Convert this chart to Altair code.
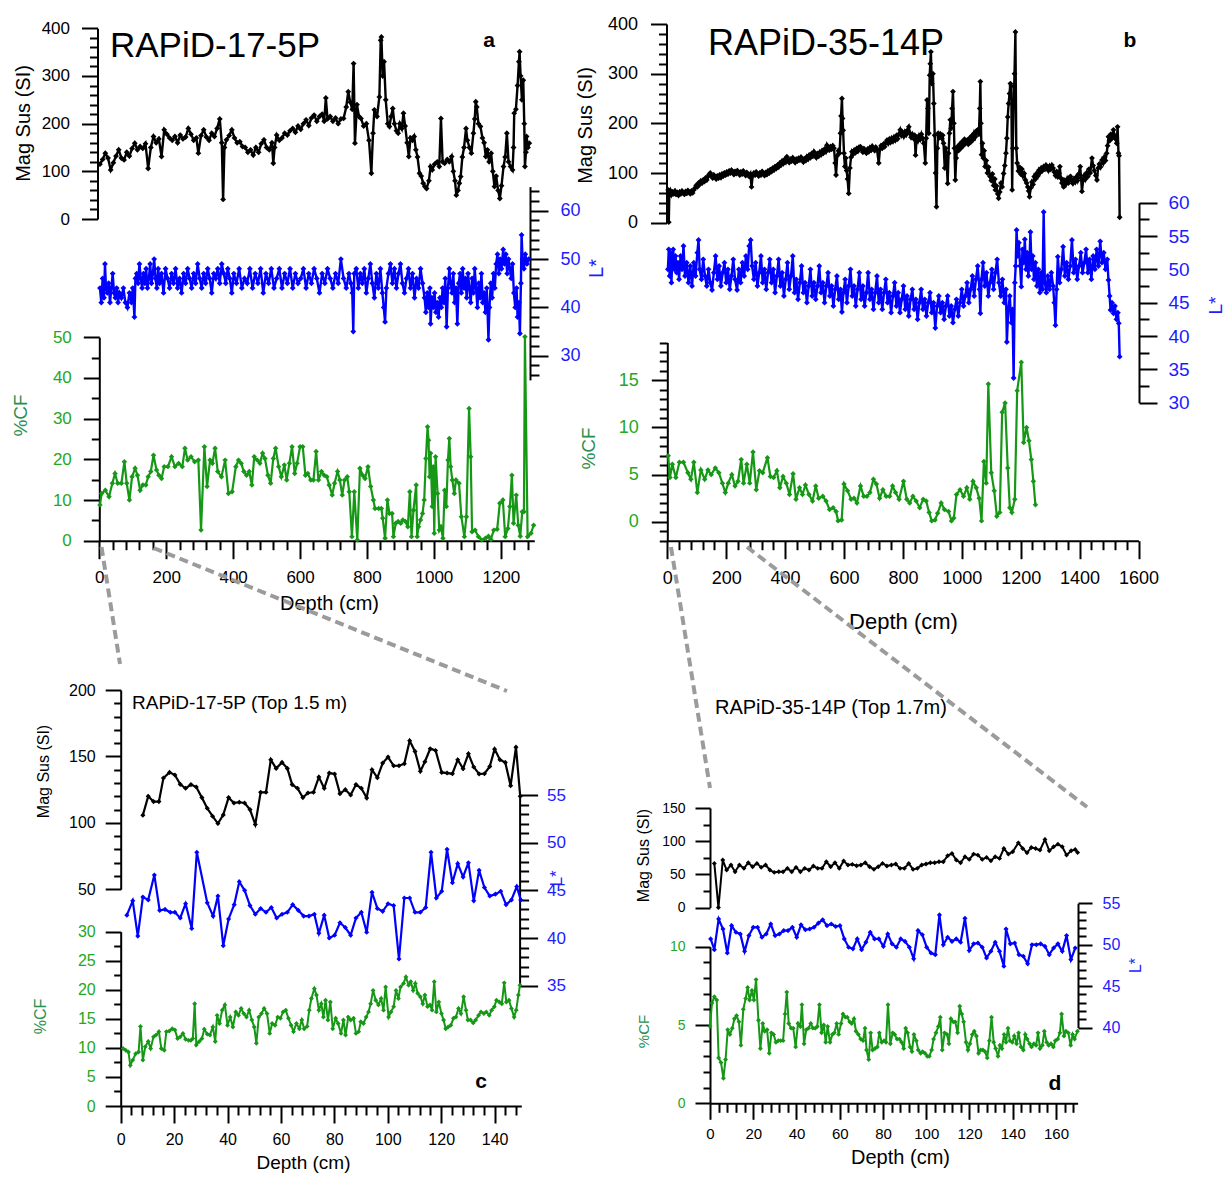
import altair as alt
import pandas as pd

W, H = 1230, 1200
FONT = "Liberation Sans"
BLACK = "#000000"
BLUE = "#0000ff"
BLUE_TXT = "#1c1cff"
GREEN = "#169816"
GREEN_TXT = "#24a824"
GREEN_TITLE = "#2a9050"
GREY = "#9b9b9b"

# ---------------- RAPiD-17-5P, full core (depth cm, value) ----------------
a_magsus = [
    (2, 115), (10, 125), (18, 138), (26, 128), (34, 103), (42, 118), (50, 132), (58, 145), (66, 128), (74, 124),
    (82, 140), (90, 132), (98, 148), (106, 159), (114, 145), (122, 152), (130, 148), (138, 158), (146, 106), (154, 150),
    (162, 173), (170, 160), (178, 168), (186, 131), (194, 187), (202, 178), (210, 170), (218, 165), (226, 173), (234, 160),
    (242, 176), (250, 168), (258, 172), (266, 190), (274, 178), (282, 165), (290, 170), (296, 138), (304, 175), (312, 187),
    (320, 172), (328, 165), (336, 180), (344, 173), (352, 190), (360, 210), (366, 160), (370, 41), (374, 150), (380, 166),
    (388, 175), (396, 187), (404, 170), (412, 160), (420, 162), (428, 152), (436, 150), (444, 140), (452, 145), (460, 134),
    (468, 150), (476, 140), (484, 158), (492, 166), (500, 150), (508, 145), (516, 160), (520, 117), (524, 150), (530, 176),
    (538, 165), (546, 170), (554, 180), (562, 176), (570, 185), (578, 190), (586, 182), (594, 195), (602, 188), (610, 200),
    (618, 208), (626, 196), (634, 212), (642, 218), (650, 205), (658, 215), (666, 220), (672, 205), (677, 254), (682, 210),
    (690, 215), (698, 205), (706, 212), (714, 200), (722, 210), (730, 211), (738, 235), (744, 267), (750, 245), (756, 230),
    (760, 326), (764, 159), (770, 240), (776, 215), (782, 211), (790, 195), (798, 200), (806, 165), (813, 96), (818, 180),
    (822, 229), (830, 215), (837, 256), (841, 375), (843, 382), (847, 300), (851, 330), (856, 250), (862, 200), (867, 194),
    (872, 215), (877, 232), (882, 200), (888, 185), (893, 180), (898, 200), (904, 190), (909, 222), (914, 195), (920, 160),
    (925, 131), (930, 170), (936, 165), (941, 173), (946, 145), (951, 130), (957, 96), (962, 90), (968, 75), (973, 68),
    (978, 64), (985, 80), (990, 110), (995, 103), (1002, 115), (1010, 120), (1016, 110), (1021, 211), (1026, 120), (1032, 117),
    (1040, 125), (1046, 120), (1053, 131), (1058, 100), (1063, 80), (1067, 50), (1072, 60), (1076, 75), (1080, 89), (1085, 130),
    (1090, 150), (1096, 190), (1100, 165), (1106, 150), (1112, 138), (1118, 180), (1122, 210), (1125, 246), (1128, 235), (1133, 200),
    (1139, 194), (1145, 170), (1150, 160), (1155, 131), (1160, 145), (1165, 120), (1171, 138), (1176, 100), (1181, 68), (1186, 90),
    (1192, 60), (1197, 43), (1202, 70), (1208, 110), (1213, 130), (1218, 180), (1223, 120), (1229, 110), (1235, 103), (1238, 150),
    (1240, 222), (1245, 230), (1250, 280), (1254, 330), (1256, 351), (1259, 300), (1263, 250), (1267, 291), (1270, 200), (1272, 110),
    (1275, 140), (1277, 173), (1281, 150), (1285, 159),
]

a_lstar = [
    (2, 44), (6, 41), (10, 46), (14, 42), (17, 49), (20, 44), (24, 43), (28, 45), (32, 41), (36, 44),
    (40, 47), (44, 43), (48, 42), (52, 44), (56, 41), (60, 43), (66, 42), (72, 44), (78, 41), (84, 40),
    (90, 43), (96, 41), (100, 44), (105, 38), (108, 46), (112, 47), (116, 45), (120, 49), (124, 46), (128, 44),
    (132, 47), (136, 45), (140, 48), (144, 44), (148, 46), (152, 49), (156, 45), (160, 47), (164, 50), (168, 46),
    (172, 44), (176, 48), (180, 45), (186, 47), (192, 43), (198, 48), (204, 46), (210, 44), (216, 47), (222, 45),
    (228, 48), (234, 44), (240, 46), (246, 43), (252, 47), (258, 45), (264, 48), (270, 46), (276, 44), (282, 47),
    (288, 45), (294, 49), (300, 46), (306, 44), (312, 47), (318, 45), (324, 48), (330, 46), (336, 43), (342, 47),
    (348, 46), (354, 48), (360, 45), (366, 49), (372, 47), (378, 45), (384, 48), (390, 46), (396, 43), (402, 47),
    (410, 45), (418, 48), (426, 44), (434, 46), (442, 45), (450, 48), (458, 44), (466, 47), (474, 45), (482, 48),
    (490, 43), (498, 47), (506, 45), (514, 48), (522, 44), (530, 46), (538, 48), (546, 44), (554, 47), (562, 45),
    (570, 48), (578, 44), (586, 47), (594, 45), (602, 46), (610, 48), (618, 44), (626, 47), (634, 45), (642, 48),
    (650, 46), (658, 43), (666, 47), (674, 45), (682, 48), (690, 46), (698, 44), (706, 47), (714, 45), (722, 50),
    (730, 46), (738, 44), (746, 47), (752, 45), (756, 43), (759, 35), (762, 47), (768, 48), (774, 44), (780, 47),
    (786, 45), (792, 48), (798, 43), (804, 46), (810, 49), (816, 45), (822, 42), (828, 47), (834, 44), (840, 48),
    (846, 43), (850, 40), (854, 37), (858, 44), (864, 47), (870, 49), (876, 45), (882, 48), (888, 44), (894, 47),
    (900, 49), (906, 45), (912, 43), (918, 46), (924, 48), (930, 44), (936, 47), (942, 42), (948, 46), (954, 44),
    (960, 48), (966, 45), (972, 42), (976, 39), (980, 43), (984, 40), (988, 44), (990, 36.6), (994, 42), (998, 40),
    (1002, 43), (1006, 39), (1010, 41), (1014, 38), (1018, 42), (1022, 40), (1026, 44), (1030, 41), (1034, 46), (1038, 36),
    (1042, 44), (1046, 48), (1050, 45), (1054, 43), (1058, 47), (1062, 41), (1066, 44), (1070, 36.6), (1074, 45), (1078, 47),
    (1082, 43), (1086, 48), (1090, 44), (1094, 46), (1098, 42), (1102, 47), (1106, 44), (1110, 41), (1114, 46), (1118, 43),
    (1122, 48), (1126, 44), (1130, 40), (1134, 45), (1138, 42), (1142, 47), (1146, 41), (1150, 43), (1154, 39), (1158, 44),
    (1163, 33.3), (1166, 40), (1170, 45), (1174, 42), (1178, 47), (1182, 44), (1186, 49), (1190, 51), (1194, 47), (1198, 50),
    (1202, 48), (1207, 52), (1211, 49), (1215, 51), (1219, 47), (1223, 50), (1227, 48), (1231, 46), (1235, 49), (1239, 43),
    (1243, 40), (1247, 44), (1250, 38), (1254, 41), (1257, 34.6), (1260, 45), (1262, 55), (1265, 50), (1269, 48), (1273, 51),
    (1278, 49), (1283, 50),
]

a_cf = [
    (2, 8.8), (7, 11.6), (18, 12.4), (29, 10.8), (39, 14.1), (47, 16.5), (55, 14.1), (66, 14.1), (75, 19.4), (82, 14.1),
    (90, 10.0), (98, 15.7), (107, 17.8), (114, 16.1), (122, 12.4), (130, 13.7), (139, 13.7), (146, 15.7), (154, 17.0), (162, 21.0),
    (171, 17.4), (178, 16.1), (186, 15.3), (194, 18.2), (205, 18.2), (216, 20.6), (226, 18.2), (237, 19.0), (248, 18.2), (256, 22.7),
    (264, 19.8), (274, 20.6), (285, 19.4), (296, 19.8), (304, 2.6), (314, 23.1), (322, 13.3), (331, 19.8), (338, 19.0), (346, 22.7),
    (354, 17.0), (365, 15.7), (376, 19.8), (386, 11.6), (397, 12.0), (408, 18.2), (416, 19.8), (424, 19.0), (432, 17.0), (440, 16.1),
    (448, 17.0), (456, 13.7), (463, 20.6), (472, 19.8), (480, 19.0), (488, 21.5), (495, 20.2), (504, 16.1), (512, 14.1), (520, 20.2),
    (527, 22.7), (536, 18.2), (544, 15.7), (553, 18.6), (560, 14.9), (568, 19.0), (576, 23.1), (584, 16.5), (591, 19.0), (600, 23.1),
    (608, 23.1), (616, 16.1), (623, 16.5), (632, 14.9), (640, 14.9), (648, 21.9), (655, 14.9), (664, 17.0), (672, 16.1), (680, 15.7),
    (687, 13.7), (696, 11.2), (703, 14.1), (712, 17.0), (719, 14.9), (726, 11.2), (733, 14.9), (741, 15.7), (747, 12.0), (755, 1.0),
    (762, 12.0), (771, 0.2), (779, 17.8), (787, 16.1), (794, 15.3), (803, 18.2), (811, 13.3), (819, 10.0), (824, 7.9), (835, 7.9),
    (843, 7.9), (847, 5.5), (854, 0.6), (861, 10.0), (867, 6.7), (875, 6.7), (879, 1.0), (886, 4.3), (893, 4.7), (901, 4.3),
    (907, 5.1), (915, 4.7), (922, 3.4), (928, 12.0), (933, 1.0), (939, 7.5), (947, 13.7), (950, 1.0), (954, 3.4), (960, 5.1),
    (966, 6.7), (971, 10.0), (976, 20.2), (981, 28.0), (984, 24.7), (987, 15.7), (990, 21.5), (995, 8.4), (998, 18.2), (1001, 1.8),
    (1005, 20.6), (1011, 11.6), (1016, 2.6), (1021, 3.4), (1027, 0.6), (1032, 12.4), (1037, 8.4), (1042, 19.8), (1046, 25.1), (1050, 18.2),
    (1055, 14.9), (1061, 11.6), (1066, 14.9), (1075, 14.1), (1082, 5.9), (1091, 1.0), (1097, 5.9), (1105, 32.5), (1110, 20.6), (1114, 2.2),
    (1123, 2.6), (1133, 1.0), (1143, 0.2), (1154, 0.6), (1163, 1.1), (1170, 0.3), (1179, 2.6), (1189, 2.8), (1197, 9.2), (1206, 10.0),
    (1213, 1.0), (1221, 3.0), (1227, 8.4), (1233, 16.1), (1238, 4.3), (1246, 11.2), (1252, 3.8), (1258, 1.1), (1264, 7.1), (1269, 7.1),
    (1272, 50.1), (1280, 1.0), (1290, 1.8), (1298, 3.8),
]

# ---------------- RAPiD-35-14P, full core ----------------
b_magsus = [
    (3, 66), (5, 1), (7, 60), (10, 65), (14, 56), (18, 62), (22, 58), (26, 64), (30, 57), (34, 61),
    (38, 55), (42, 62), (46, 58), (50, 64), (54, 60), (58, 57), (62, 63), (66, 59), (70, 65), (74, 61),
    (78, 58), (82, 64), (86, 60), (90, 66), (94, 70), (98, 75), (102, 72), (106, 80), (110, 77), (114, 84),
    (118, 80), (122, 86), (126, 83), (130, 90), (134, 86), (138, 93), (142, 97), (146, 100), (150, 94), (154, 90),
    (158, 96), (162, 92), (166, 88), (170, 94), (174, 90), (178, 96), (182, 91), (186, 98), (190, 94), (194, 100),
    (198, 96), (202, 102), (206, 98), (210, 104), (214, 100), (218, 106), (222, 101), (226, 97), (230, 103), (234, 99),
    (238, 105), (242, 100), (246, 96), (250, 102), (254, 98), (258, 104), (262, 99), (266, 95), (270, 101), (274, 97),
    (278, 93), (282, 98), (286, 72), (290, 95), (294, 100), (298, 96), (302, 102), (306, 98), (310, 94), (314, 100),
    (318, 96), (322, 103), (326, 99), (330, 95), (334, 101), (338, 97), (342, 104), (346, 100), (350, 107), (354, 103),
    (358, 110), (362, 106), (366, 113), (370, 109), (374, 116), (378, 112), (382, 120), (386, 116), (390, 124), (394, 119),
    (398, 127), (402, 122), (406, 133), (410, 125), (414, 121), (418, 128), (422, 124), (426, 131), (430, 126), (434, 121),
    (438, 128), (442, 124), (446, 130), (450, 126), (454, 132), (458, 127), (462, 122), (466, 129), (470, 125), (474, 133),
    (478, 128), (482, 136), (486, 131), (490, 139), (494, 134), (498, 143), (502, 137), (506, 131), (510, 139), (514, 134),
    (518, 142), (522, 137), (526, 145), (530, 140), (534, 148), (538, 143), (542, 156), (546, 150), (550, 146), (554, 153),
    (558, 148), (562, 155), (566, 150), (570, 120), (573, 96), (577, 135), (581, 145), (585, 140), (588, 180), (590, 215),
    (593, 250), (595, 210), (597, 186), (600, 140), (603, 113), (606, 130), (609, 105), (612, 88), (616, 59), (620, 110),
    (624, 132), (627, 143), (631, 138), (635, 146), (639, 141), (643, 149), (647, 144), (651, 152), (656, 153), (660, 147),
    (664, 142), (668, 149), (672, 144), (676, 140), (680, 148), (684, 143), (688, 151), (692, 146), (696, 154), (700, 149),
    (704, 145), (708, 152), (712, 147), (718, 120), (722, 148), (726, 155), (730, 150), (734, 158), (738, 153), (742, 161),
    (746, 166), (750, 160), (754, 168), (758, 162), (762, 170), (766, 164), (770, 172), (774, 166), (778, 175), (782, 169),
    (786, 178), (791, 187), (795, 176), (799, 182), (803, 174), (807, 183), (811, 177), (815, 186), (820, 193), (824, 180),
    (828, 172), (832, 178), (836, 170), (840, 176), (843, 136), (847, 172), (851, 165), (855, 175), (859, 168), (863, 178),
    (867, 170), (871, 160), (876, 120), (879, 170), (882, 247), (885, 230), (888, 180), (891, 297), (893, 320), (895, 344),
    (898, 280), (902, 300), (905, 240), (908, 176), (911, 100), (914, 32), (917, 150), (920, 180), (924, 172), (928, 178),
    (932, 170), (935, 176), (938, 160), (942, 110), (945, 150), (948, 130), (952, 79), (955, 140), (958, 180), (961, 207),
    (964, 190), (967, 230), (970, 264), (973, 200), (975, 150), (978, 86), (981, 130), (985, 153), (989, 145), (993, 158),
    (997, 150), (1001, 163), (1005, 155), (1009, 168), (1013, 160), (1018, 166), (1022, 158), (1026, 170), (1030, 162), (1034, 175),
    (1038, 167), (1042, 180), (1046, 173), (1050, 185), (1054, 187), (1058, 178), (1061, 230), (1063, 284), (1065, 200), (1067, 137),
    (1070, 160), (1073, 130), (1076, 145), (1079, 113), (1083, 125), (1087, 100), (1091, 112), (1096, 93), (1100, 85), (1104, 98),
    (1108, 75), (1112, 88), (1114, 66), (1118, 74), (1122, 58), (1125, 49), (1129, 62), (1133, 80), (1137, 72), (1142, 99),
    (1146, 115), (1150, 140), (1153, 170), (1156, 213), (1159, 240), (1162, 260), (1165, 280), (1168, 275), (1171, 66), (1173, 150),
    (1176, 237), (1179, 300), (1182, 384), (1185, 150), (1188, 120), (1192, 104), (1196, 112), (1200, 98), (1204, 108), (1208, 94),
    (1212, 99), (1216, 86), (1220, 80), (1224, 72), (1227, 64), (1230, 52), (1234, 70), (1238, 82), (1242, 77), (1246, 93),
    (1250, 88), (1254, 99), (1258, 94), (1262, 106), (1266, 101), (1270, 110), (1274, 105), (1278, 113), (1282, 108), (1286, 116),
    (1290, 111), (1294, 105), (1298, 114), (1302, 108), (1306, 116), (1310, 110), (1314, 102), (1318, 95), (1322, 103), (1326, 92),
    (1330, 100), (1333, 113), (1336, 90), (1340, 80), (1344, 86), (1346, 72), (1350, 84), (1354, 78), (1358, 88), (1362, 80),
    (1366, 91), (1369, 93), (1373, 85), (1377, 79), (1381, 88), (1385, 82), (1389, 92), (1393, 85), (1397, 98), (1402, 113),
    (1405, 90), (1408, 63), (1412, 85), (1416, 95), (1420, 88), (1424, 100), (1428, 93), (1432, 108), (1436, 100), (1442, 130),
    (1446, 115), (1450, 105), (1455, 95), (1459, 86), (1463, 110), (1467, 118), (1471, 112), (1476, 126), (1480, 120), (1484, 132),
    (1488, 125), (1492, 140), (1495, 155), (1498, 173), (1502, 165), (1506, 178), (1510, 170), (1515, 187), (1519, 175), (1523, 168),
    (1526, 160), (1529, 193), (1532, 140), (1534, 135), (1536, 11),
]

b_lstar = [
    (2, 50), (5, 53), (8, 49), (11, 52.5), (14, 48), (17, 51.5), (20, 53), (24, 50), (28, 52), (32, 49.5),
    (36, 51), (40, 48.5), (45, 52), (50, 50), (55, 53.5), (60, 49), (66, 51), (72, 48), (78, 50.5), (84, 47.5),
    (90, 51), (96, 49), (102, 52.5), (106, 54.4), (110, 50), (116, 48.5), (122, 51.5), (128, 49), (134, 47.5), (140, 50),
    (146, 48), (152, 46.9), (158, 49.5), (164, 52), (170, 48.5), (176, 50.5), (182, 47.5), (188, 49.5), (194, 51), (200, 48),
    (206, 50), (212, 47), (218, 49), (224, 51.5), (230, 48.5), (237, 46.9), (243, 50), (249, 48), (255, 51), (261, 49),
    (267, 52), (273, 50), (278, 53.5), (283, 54.4), (288, 50.5), (294, 48.5), (300, 51), (306, 47.5), (312, 49.5), (318, 52),
    (324, 48), (330, 50), (336, 47), (342, 49.5), (348, 51.5), (354, 48), (360, 50), (366, 46.5), (372, 49), (378, 51.5),
    (384, 47.5), (390, 49.5), (396, 46), (402, 48.5), (408, 51), (414, 47), (420, 49), (426, 52), (432, 46.5), (438, 48.5),
    (444, 45.5), (450, 48), (456, 50.5), (462, 46.5), (468, 48), (474, 45), (480, 47.5), (486, 50), (492, 46), (498, 48),
    (504, 45.5), (510, 47.5), (516, 50.5), (522, 46.5), (528, 48), (534, 45), (540, 47.5), (546, 49.5), (552, 46), (558, 47.5),
    (564, 44.5), (570, 47), (576, 49), (582, 45.5), (588, 47), (593, 43.6), (598, 46.5), (604, 48.5), (610, 45), (616, 47.5),
    (622, 50), (628, 46), (634, 47.5), (640, 44.5), (646, 47), (652, 49.5), (658, 45.5), (664, 47.5), (670, 44.5), (676, 46.5),
    (682, 49.5), (688, 45.5), (694, 47), (700, 44), (706, 46.5), (712, 49), (718, 45), (724, 47), (730, 44), (736, 46.5),
    (742, 48.5), (748, 45), (754, 46.5), (760, 43.5), (766, 46), (772, 48), (778, 44.5), (784, 46.5), (790, 43.5), (796, 45.5),
    (802, 47.5), (808, 44), (814, 46), (820, 43), (826, 45.5), (832, 47), (838, 44), (844, 45.5), (850, 42.5), (856, 45),
    (862, 47), (868, 44), (874, 45.5), (880, 43), (886, 45), (892, 46.5), (898, 43.5), (904, 45), (910, 41.2), (916, 44.5),
    (922, 46), (928, 43.5), (934, 45), (940, 42.5), (946, 44.5), (952, 46), (958, 43), (964, 44.5), (970, 42), (976, 44),
    (982, 45.5), (988, 43), (994, 45), (1000, 47), (1006, 44.5), (1012, 46), (1018, 48), (1024, 45), (1030, 47), (1036, 49),
    (1042, 46), (1048, 48.5), (1054, 50.5), (1060, 47), (1063, 43.4), (1067, 48.5), (1072, 51), (1078, 47.5), (1084, 49.5), (1090, 46),
    (1096, 48), (1102, 50), (1108, 47), (1114, 49.5), (1120, 51.5), (1126, 48), (1132, 46), (1138, 48.5), (1144, 45), (1150, 47),
    (1153, 39.1), (1158, 44), (1163, 46), (1168, 42), (1172, 44), (1176, 33.7), (1180, 48), (1183, 50.5), (1186, 55.9), (1190, 52),
    (1194, 54), (1198, 50.5), (1202, 47.4), (1206, 53), (1210, 51), (1214, 54.5), (1218, 50), (1222, 52.5), (1226, 49), (1230, 51.5),
    (1233, 55.6), (1237, 50), (1241, 52), (1245, 48.5), (1250, 51), (1255, 47.5), (1260, 50), (1265, 46.5), (1270, 49.5), (1274, 47),
    (1278, 58.6), (1282, 48), (1287, 46.5), (1292, 49), (1298, 47), (1304, 49.5), (1310, 47.5), (1314, 45), (1318, 41.6), (1322, 47),
    (1326, 51.9), (1332, 48), (1338, 50), (1344, 53.4), (1350, 49), (1356, 51), (1362, 48.5), (1368, 50.5), (1374, 54.4), (1380, 49.5),
    (1386, 51.5), (1392, 48.5), (1398, 50.5), (1404, 52.5), (1410, 49.5), (1416, 51), (1422, 53), (1428, 49.5), (1434, 51.5), (1440, 48.5),
    (1446, 52), (1452, 50), (1458, 53), (1464, 50.5), (1470, 54.2), (1476, 51), (1482, 52.5), (1488, 50), (1494, 51.5), (1498, 48.4),
    (1502, 46), (1505, 43.9), (1510, 45), (1515, 43.4), (1520, 44.5), (1525, 42.5), (1530, 43.5), (1533, 41.9), (1536, 36.9),
]

b_cf = [
    (3, 7.0), (9, 4.7), (17, 6.1), (29, 4.7), (41, 6.3), (55, 6.3), (70, 5.2), (80, 4.5), (90, 6.3), (102, 3.1),
    (114, 5.5), (127, 4.5), (138, 5.5), (149, 5.0), (163, 5.7), (175, 5.2), (187, 4.1), (197, 3.1), (207, 4.1), (219, 5.0),
    (230, 3.8), (240, 4.3), (251, 6.6), (259, 4.1), (270, 6.1), (280, 4.1), (291, 7.4), (302, 3.4), (313, 5.4), (324, 5.2),
    (340, 6.8), (350, 4.8), (361, 4.7), (372, 5.4), (382, 3.6), (393, 4.8), (404, 4.1), (415, 2.9), (427, 5.1), (437, 2.4),
    (449, 3.6), (459, 2.9), (469, 3.9), (481, 2.9), (493, 2.2), (504, 3.8), (514, 2.5), (528, 2.7), (539, 2.2), (551, 1.3),
    (563, 1.5), (573, 1.1), (580, 0.1), (592, 0.2), (600, 4.0), (612, 3.3), (624, 2.4), (634, 2.5), (644, 2.0), (656, 3.8),
    (667, 2.7), (678, 2.7), (688, 3.1), (700, 4.5), (710, 4.0), (721, 2.5), (732, 3.4), (743, 2.7), (755, 2.7), (765, 3.8),
    (775, 3.1), (787, 2.4), (802, 4.3), (813, 2.4), (823, 2.0), (834, 2.7), (845, 2.2), (857, 1.5), (869, 2.4), (879, 2.2),
    (889, 1.0), (898, 0.1), (909, 0.2), (918, 0.9), (930, 2.0), (941, 1.3), (955, 1.1), (965, 0.1), (973, 0.4), (982, 2.9),
    (994, 3.4), (1006, 2.7), (1017, 3.6), (1027, 2.4), (1038, 4.3), (1049, 3.6), (1059, 2.5), (1067, 0.1), (1075, 6.4), (1083, 4.1),
    (1090, 14.6), (1100, 5.2), (1110, 3.3), (1119, 0.6), (1129, 1.0), (1137, 11.6), (1147, 12.6), (1156, 5.7), (1163, 1.5), (1170, 1.0),
    (1180, 2.4), (1188, 13.9), (1202, 16.9), (1210, 8.4), (1220, 10.0), (1228, 8.6), (1236, 6.6), (1243, 4.3), (1250, 1.8),
]

# ---------------- RAPiD-17-5P, top 1.5 m ----------------
c_magsus = [
    (8.3, 105.8), (10.3, 120), (12.3, 116), (14.3, 116), (16.0, 133.8), (18.3, 138), (20.3, 136), (22.3, 129), (24.3, 126), (26.3, 128.8),
    (28.3, 127), (30.4, 119), (32.4, 111), (34.4, 105), (36.4, 99.5), (38.4, 106), (40.4, 119), (42.4, 115), (44.4, 115.5), (46.4, 115),
    (48.4, 110), (50.4, 98.8), (52.4, 123), (54.4, 123), (56.2, 147.5), (58.2, 141), (60.4, 145.5), (62.4, 141), (64.2, 128.8), (66.2, 126),
    (68.2, 119), (70.1, 122.5), (72.2, 123), (74.2, 134.5), (76.2, 126), (78.1, 137.5), (80.1, 136.8), (82.1, 122), (84.1, 125), (86.1, 121),
    (88.1, 128.8), (90.1, 126), (92.1, 118.8), (94.1, 140), (96.1, 134), (98.1, 145), (100.1, 149.5), (102.2, 143), (104.2, 143), (106.2, 144.5),
    (108.2, 161.8), (110.2, 153.8), (112.2, 138.8), (113.9, 146), (115.9, 155.8), (117.9, 154.5), (120.2, 138), (122.2, 137.5), (124.2, 137), (126.2, 147.5),
    (128.2, 140.8), (130.2, 152), (132.2, 142), (134.2, 136.8), (136.2, 137), (138.2, 142.5), (140.0, 155.5), (142.0, 147.5), (144.0, 145.5), (146.0, 128),
    (148.0, 157), (149.6, 120),
]

c_lstar = [
    (2.3, 42.4), (4.5, 43.9), (6.4, 40.2), (8.3, 44.3), (10.3, 44.0), (12.6, 46.6), (14.6, 42.9), (16.6, 43.0), (18.6, 42.7), (20.3, 42.7),
    (22.3, 42.1), (24.3, 43.6), (26.6, 41.0), (28.5, 49.0), (32.4, 43.7), (34.6, 42.3), (36.4, 44.4), (38.4, 39.2), (40.4, 42.0), (42.5, 43.5),
    (44.4, 45.9), (46.4, 45.0), (48.4, 43.4), (50.4, 42.5), (52.4, 43.1), (54.4, 42.7), (56.4, 43.2), (58.4, 42.1), (60.4, 42.5), (62.4, 42.7),
    (64.4, 43.5), (66.5, 42.9), (68.5, 42.3), (70.5, 42.3), (72.5, 42.5), (74.2, 40.5), (76.2, 42.4), (78.1, 40.0), (80.1, 40.3), (82.1, 41.6),
    (84.1, 41.1), (86.1, 40.3), (88.1, 42.1), (90.1, 42.7), (92.1, 40.6), (94.1, 44.8), (96.1, 43.1), (98.1, 42.8), (100.1, 43.6), (102.2, 43.4),
    (104.2, 37.8), (106.2, 44.2), (108.2, 44.2), (110.2, 42.7), (112.2, 42.7), (114.2, 43.2), (116.2, 49.0), (118.2, 44.2), (120.2, 44.9), (122.2, 49.3),
    (124.2, 45.8), (126.2, 47.8), (128.2, 46.4), (130.2, 47.9), (132.2, 43.9), (134.2, 47.1), (136.2, 45.3), (138.2, 44.4), (140.3, 44.6), (142.3, 44.9),
    (144.3, 43.5), (146.3, 44.0), (148.3, 45.4), (149.8, 44.0),
]

c_cf = [
    (0.9, 9.9), (1.9, 9.6), (2.9, 9.3), (3.6, 7.0), (4.5, 7.9), (5.6, 9.0), (6.7, 9.3), (7.4, 13.7), (8.3, 7.9), (9.2, 10.2),
    (10.3, 11.1), (11.2, 9.9), (12.3, 11.9), (13.2, 12.2), (14.3, 12.8), (15.2, 9.9), (16.3, 9.6), (17.1, 12.8), (18.2, 12.9), (19.3, 13.3),
    (20.3, 13.1), (21.3, 11.6), (22.3, 11.9), (23.3, 12.5), (24.3, 11.5), (25.4, 11.3), (26.3, 11.3), (27.0, 11.6), (27.7, 17.6), (28.3, 10.5),
    (29.4, 11.1), (30.4, 11.6), (31.3, 13.2), (32.4, 12.4), (33.4, 12.2), (34.5, 13.6), (35.4, 11.1), (36.1, 15.6), (37.0, 14.2), (38.0, 16.5),
    (39.0, 17.4), (40.0, 13.9), (41.0, 15.3), (42.0, 13.6), (43.1, 16.2), (44.1, 15.6), (45.1, 16.8), (46.1, 15.9), (47.1, 15.3), (48.1, 16.5),
    (49.1, 14.8), (50.0, 13.6), (50.8, 10.8), (51.7, 15.3), (52.7, 15.9), (53.7, 16.8), (54.8, 15.9), (55.8, 12.5), (56.7, 14.2), (57.8, 13.9),
    (58.8, 15.3), (59.8, 15.1), (60.8, 16.2), (61.8, 16.5), (62.8, 15.1), (63.8, 13.9), (64.7, 12.8), (65.8, 14.2), (66.9, 13.3), (67.8, 14.8),
    (68.7, 13.3), (69.8, 13.7), (70.6, 16.5), (71.4, 18.5), (72.5, 20.2), (73.3, 19.1), (74.2, 16.5), (75.1, 17.6), (75.9, 15.3), (76.7, 18.2),
    (77.6, 14.8), (78.5, 17.9), (79.4, 13.3), (80.5, 15.1), (81.4, 14.2), (82.5, 12.5), (83.4, 14.8), (84.2, 12.2), (85.2, 15.3), (86.1, 14.8),
    (87.2, 15.1), (88.1, 12.5), (89.1, 12.8), (89.9, 14.5), (90.9, 14.2), (91.9, 15.3), (92.8, 16.2), (93.6, 17.6), (94.5, 19.9), (95.5, 18.2),
    (96.5, 17.4), (97.5, 18.5), (98.4, 16.5), (99.2, 20.5), (100.3, 15.3), (101.2, 16.2), (102.2, 17.1), (103.1, 19.9), (104.0, 18.5), (104.8, 20.5),
    (105.9, 21.1), (106.8, 22.2), (107.8, 20.8), (108.6, 21.4), (109.5, 19.9), (110.3, 21.1), (111.2, 19.4), (112.2, 18.8), (113.1, 17.6), (113.9, 19.1),
    (114.9, 17.1), (115.8, 17.4), (116.6, 16.5), (117.4, 21.4), (118.2, 16.2), (119.1, 17.9), (120.1, 15.9), (120.9, 14.8), (121.7, 13.3), (122.6, 13.6),
    (123.6, 13.9), (124.6, 15.1), (125.5, 15.3), (126.5, 16.8), (127.4, 15.9), (128.4, 18.8), (129.3, 16.5), (130.0, 14.8), (131.0, 14.8), (132.0, 14.3),
    (132.9, 14.8), (134.0, 15.6), (134.9, 16.2), (136.0, 15.9), (136.9, 16.2), (138.0, 15.6), (138.9, 16.5), (139.9, 17.1), (140.7, 18.2), (141.8, 17.9),
    (142.7, 17.6), (143.6, 21.2), (144.4, 17.9), (145.4, 18.2), (146.3, 16.8), (147.3, 15.3), (148.1, 16.5), (148.9, 19.1), (149.5, 20.8),
]

# ---------------- RAPiD-35-14P, top 1.7 m ----------------
d_magsus = [
    (2.0, 66.5), (3.9, 0), (5.9, 71.5), (7.7, 56.5), (9.7, 64), (11.6, 54), (13.6, 64), (15.7, 59), (17.7, 67.5), (19.7, 61.5),
    (21.7, 66.5), (23.7, 60.5), (25.7, 64), (27.7, 56.5), (29.7, 53), (31.8, 54), (33.8, 54), (35.8, 59), (37.8, 54), (39.8, 60.5),
    (41.8, 54), (43.8, 59), (45.8, 56.5), (47.8, 62.5), (49.8, 59), (51.8, 59), (53.8, 69), (55.8, 61.5), (57.8, 67.5), (59.8, 59),
    (61.8, 70), (63.8, 64), (65.8, 65), (67.8, 63), (69.8, 64), (71.8, 67.5), (73.8, 61.5), (75.8, 57.5), (77.8, 61.5), (79.8, 66.5),
    (81.8, 62.5), (83.9, 64), (85.9, 65.5), (87.9, 59), (89.9, 59), (91.9, 66.5), (93.9, 57.5), (95.9, 59), (97.9, 64), (99.9, 65.5),
    (101.9, 67.5), (103.9, 67.5), (105.9, 69), (107.9, 69), (109.9, 78), (111.9, 81.5), (113.9, 71.5), (115.9, 67.5), (117.9, 76.5), (119.9, 72.5),
    (121.9, 80.5), (123.9, 79), (125.9, 72.5), (127.9, 75.5), (129.9, 70.5), (131.9, 76.5), (133.9, 74), (135.9, 89), (138.0, 80.5), (140.0, 84),
    (142.6, 97.5), (144.6, 89), (146.6, 82.5), (148.6, 90.5), (150.6, 89), (152.6, 86.5), (154.9, 102.5), (156.9, 85.5), (158.9, 91.5), (160.9, 95.5),
    (162.9, 91.5), (164.9, 79), (167.0, 85.5), (168.9, 87.5), (170.0, 83),
]

d_lstar = [
    (0.3, 50.7), (2.0, 49.4), (4.0, 53.1), (6.0, 51.9), (8.0, 49.0), (10.0, 52.3), (12.0, 51.5), (14.0, 51.3), (16.0, 49.2), (18.0, 51.1),
    (20.0, 52.1), (22.0, 52.1), (24.0, 50.9), (26.0, 51.3), (28.1, 52.5), (30.1, 51.1), (32.1, 51.3), (34.1, 51.7), (36.1, 51.7), (38.1, 52.1),
    (40.1, 50.9), (42.1, 52.4), (44.1, 51.8), (46.1, 51.9), (48.1, 52.1), (50.1, 52.6), (52.1, 53.0), (54.1, 52.3), (56.1, 52.5), (58.1, 52.2),
    (60.1, 52.3), (62.1, 50.7), (64.1, 49.7), (66.1, 49.5), (68.1, 50.7), (70.1, 49.4), (72.1, 50.3), (74.1, 51.5), (76.1, 50.7), (78.1, 50.7),
    (80.2, 49.8), (82.2, 51.3), (84.2, 50.1), (86.2, 49.7), (88.2, 50.7), (90.2, 50.4), (92.2, 49.7), (94.2, 48.3), (96.2, 51.7), (98.2, 51.2),
    (100.2, 49.7), (102.2, 49.0), (104.2, 48.8), (106.1, 53.6), (107.9, 50.0), (109.9, 50.9), (111.9, 50.4), (113.9, 50.7), (115.9, 50.3), (117.9, 53.2),
    (119.9, 49.3), (121.9, 50.1), (123.9, 50.2), (125.9, 49.7), (127.9, 48.4), (129.9, 49.2), (131.9, 50.3), (133.9, 49.2), (135.9, 47.4), (136.9, 51.9),
    (138.9, 50.1), (140.9, 50.2), (142.9, 48.8), (144.9, 48.6), (146.9, 47.7), (148.9, 50.0), (150.9, 50.0), (152.9, 50.1), (154.9, 49.8), (156.9, 48.8),
    (158.9, 49.6), (160.9, 50.1), (162.9, 49.2), (164.9, 51.1), (166.9, 48.2), (168.9, 49.6),
]

d_cf = [
    (0.0, 4.9), (0.9, 6.4), (2.0, 6.8), (3.1, 6.6), (4.0, 2.9), (5.1, 2.6), (6.2, 1.6), (7.2, 2.8), (8.2, 4.7), (9.2, 4.4),
    (10.3, 4.8), (11.3, 5.4), (12.3, 5.6), (13.4, 5.2), (14.3, 3.7), (15.4, 6.0), (16.5, 6.7), (17.4, 7.4), (18.3, 6.6), (19.4, 7.2),
    (20.3, 6.6), (21.3, 7.9), (22.4, 5.3), (23.3, 3.5), (24.4, 5.1), (25.3, 4.6), (26.4, 4.7), (27.4, 3.2), (28.4, 4.5), (29.4, 4.4),
    (30.5, 3.9), (31.6, 4.0), (32.7, 4.0), (33.8, 4.0), (34.7, 5.7), (35.5, 7.1), (36.4, 5.1), (37.5, 4.8), (38.5, 4.8), (39.6, 3.6),
    (40.7, 5.1), (41.8, 4.9), (42.5, 6.3), (43.5, 3.8), (44.5, 4.7), (45.6, 4.8), (46.6, 5.1), (47.6, 4.8), (48.7, 4.8), (49.6, 4.9),
    (50.6, 6.3), (51.6, 4.5), (52.6, 5.0), (53.5, 3.9), (54.4, 4.9), (55.5, 3.9), (56.6, 4.4), (57.5, 4.5), (58.6, 5.1), (59.5, 4.4),
    (60.6, 5.1), (61.5, 5.7), (62.6, 5.5), (63.5, 5.5), (64.6, 5.2), (65.5, 5.1), (66.6, 5.4), (67.5, 4.6), (68.6, 4.4), (69.7, 4.1),
    (70.8, 4.0), (71.7, 4.8), (72.4, 3.4), (73.4, 2.8), (74.3, 4.5), (75.2, 3.4), (76.3, 3.5), (77.4, 3.6), (78.3, 4.5), (79.4, 3.9),
    (80.5, 4.0), (81.4, 3.9), (82.3, 6.3), (83.4, 3.8), (84.5, 4.5), (85.4, 4.4), (86.5, 4.1), (87.6, 4.1), (88.6, 3.9), (89.6, 3.5),
    (90.5, 4.8), (91.4, 4.5), (92.5, 3.6), (93.4, 3.3), (94.3, 4.4), (95.4, 4.0), (96.3, 3.4), (97.4, 3.2), (98.3, 3.3), (99.4, 3.2),
    (100.5, 3.0), (101.4, 3.0), (102.5, 3.4), (103.4, 4.1), (104.5, 4.5), (105.6, 4.9), (106.5, 5.5), (107.4, 3.4), (108.5, 4.5), (109.6, 4.4),
    (110.5, 3.8), (111.4, 5.4), (112.5, 5.2), (113.4, 5.2), (114.5, 4.5), (115.5, 6.2), (116.4, 5.7), (117.3, 5.2), (118.4, 3.9), (119.3, 3.4),
    (120.2, 3.8), (121.3, 4.4), (122.2, 4.6), (123.2, 4.3), (124.2, 3.2), (125.2, 3.4), (126.2, 3.4), (127.2, 3.3), (128.2, 2.9), (129.2, 4.0),
    (130.2, 5.5), (131.2, 3.9), (132.1, 3.5), (133.2, 3.0), (134.1, 3.7), (135.0, 3.5), (136.0, 4.4), (136.9, 3.9), (137.8, 4.8), (138.7, 4.0),
    (139.8, 3.9), (140.7, 4.3), (141.8, 3.8), (142.7, 4.5), (143.8, 3.6), (144.9, 3.4), (145.8, 4.4), (146.7, 4.1), (147.8, 3.8), (148.7, 3.6),
    (149.8, 3.8), (150.8, 3.7), (151.7, 4.5), (152.6, 3.5), (153.7, 3.7), (154.6, 4.6), (155.7, 3.9), (156.6, 3.7), (157.7, 3.8), (158.8, 3.6),
    (159.7, 4.0), (160.8, 4.1), (161.8, 4.5), (162.6, 5.7), (163.7, 4.3), (164.6, 4.6), (165.7, 4.5), (166.8, 3.7), (167.7, 4.4), (168.6, 4.1),
    (169.9, 4.6),
]

ONE = pd.DataFrame({"k": [0]})


def sc(dom, rng):
    return alt.Scale(domain=dom, range=rng, nice=False, zero=False)


def steps(lo, hi, step, skip):
    """Tick positions from lo to hi every `step`, leaving out multiples of `skip`."""
    out, v = [], lo
    while v <= hi + 1e-9:
        if abs(v / skip - round(v / skip)) > 1e-9:
            out.append(round(v, 4))
        v += step
    return out


def series(pairs, xdom, xrng, ydom, yrng, color, size, width):
    df = pd.DataFrame(pairs, columns=["depth", "value"])
    return alt.Chart(df).mark_line(
        color=color, strokeWidth=width,
        point=alt.OverlayMarkDef(shape="diamond", size=size, color=color, filled=True, opacity=1),
    ).encode(
        x=alt.X("depth:Q", scale=sc(xdom, xrng), axis=None),
        y=alt.Y("value:Q", scale=sc(ydom, yrng), axis=None),
    )


def axis(channel, dom, rng, orient, at, major, minor, lab_size, lab_color, pad, tick, minor_tick,
         title=None, title_size=16, title_color=BLACK, title_pos=(0, 0)):
    if orient == "left":
        off = -at
    elif orient == "right":
        off = at - W
    else:
        off = at - H
    base = dict(orient=orient, offset=off, grid=False, tickColor=BLACK, tickWidth=2)
    main_kw = dict(base, values=major, format="d", tickSize=tick, domainColor=BLACK, domainWidth=2,
                   labelFont=FONT, labelFontSize=lab_size, labelColor=lab_color, labelPadding=pad,
                   labelOverlap=False, labelFlush=False)
    if title is not None:
        tx, ty = title_pos
        if channel == "x":
            main_kw.update(titleX=tx, titleY=ty - at, titleAngle=0)
        else:
            main_kw.update(titleX=tx - at, titleY=ty, titleAngle=270)
        main_kw.update(title=title, titleFont=FONT, titleFontSize=title_size, titleFontWeight="normal",
                       titleColor=title_color, titleAlign="center", titleBaseline="middle")
    else:
        main_kw["title"] = None
    minor_kw = dict(base, values=minor, tickSize=minor_tick, domain=False, labels=False, title=None)
    df = pd.DataFrame({"v": [dom[0]]})
    out = []
    for kw in (main_kw, minor_kw):
        c = alt.Chart(df).mark_point(opacity=0)
        if channel == "x":
            c = c.encode(x=alt.X("v:Q", scale=sc(dom, rng), axis=alt.Axis(**kw)))
        else:
            c = c.encode(y=alt.Y("v:Q", scale=sc(dom, rng), axis=alt.Axis(**kw)))
        out.append(c)
    return out


def label(text, x, y, size, bold=False, align="left"):
    return alt.Chart(ONE).mark_text(
        text=text, font=FONT, fontSize=size, fontWeight="bold" if bold else "normal",
        align=align, baseline="alphabetic", color=BLACK,
    ).encode(x=alt.value(x), y=alt.value(y))


def connector(x1, y1, x2, y2):
    return alt.Chart(ONE).mark_rule(color=GREY, strokeWidth=4, strokeDash=[9, 5]).encode(
        x=alt.value(x1), y=alt.value(y1), x2=alt.value(x2), y2=alt.value(y2))


layers = [
    connector(101.5, 547, 120, 664),
    connector(153.6, 548, 507, 691),
    connector(671, 547, 710, 788),
    connector(747, 547, 1087, 807),
]

# ---- panel a ----
A_X = ([0, 1300], [99.3, 534.3])
A_MS = ([0, 400], [219, 28.3])
A_L = ([25, 65], [379.9, 186.6])
A_CF = ([0, 50], [540.7, 337.2])
layers += axis("y", *A_MS, "left", 97.5, list(range(0, 401, 100)), steps(0, 400, 20, 100),
               17, BLACK, 12, 16, 8, "Mag Sus (SI)", 20, BLACK, (23, 123))
layers += axis("y", *A_L, "right", 530, [30, 40, 50, 60], steps(26, 64, 2, 10),
               18, BLUE_TXT, 12, 18, 9, "L*", 20, BLUE_TXT, (596, 268))
layers += axis("y", *A_CF, "left", 99.3, list(range(0, 51, 10)), steps(0, 50, 5, 10),
               17, GREEN_TXT, 12, 16, 8, "%CF", 19, GREEN_TITLE, (20, 415))
layers += axis("x", *A_X, "bottom", 540.7, list(range(0, 1201, 200)), steps(0, 1300, 40, 200),
               17, BLACK, 11, 18, 9, "Depth (cm)", 20, BLACK, (329, 603))
layers += [
    series(a_magsus, *A_X, *A_MS, BLACK, 34, 2.4),
    series(a_lstar, *A_X, *A_L, BLUE, 34, 2.4),
    series(a_cf, *A_X, *A_CF, GREEN, 30, 2.2),
    label("RAPiD-17-5P", 110, 57, 35),
    label("a", 489, 47, 21, bold=True, align="center"),
]

# ---- panel b ----
B_X = ([0, 1600], [667.3, 1138.5])
B_MS = ([0, 400], [222.7, 24])
B_L = ([30, 60], [402.7, 202.7])
B_CF = ([-2, 19], [540.7, 342.5])
layers += axis("y", *B_MS, "left", 666.5, list(range(0, 401, 100)), steps(0, 400, 20, 100),
               18, BLACK, 13, 16, 8, "Mag Sus (SI)", 20, BLACK, (585, 125))
layers += axis("y", *B_L, "right", 1139, [30, 35, 40, 45, 50, 55, 60], steps(30, 60, 2.5, 5),
               19, BLUE_TXT, 11, 18, 10, "L*", 19, BLUE_TXT, (1215, 305))
layers += axis("y", *B_CF, "left", 667.3, [0, 5, 10, 15], steps(-2, 19, 1, 5),
               18, GREEN_TXT, 13, 16, 8, "%CF", 19, GREEN_TITLE, (588, 448))
layers += axis("x", *B_X, "bottom", 540.7, list(range(0, 1601, 200)), steps(0, 1600, 40, 200),
               18, BLACK, 11, 18, 9, "Depth (cm)", 22, BLACK, (903, 621))
layers += [
    series(b_magsus, *B_X, *B_MS, BLACK, 34, 2.4),
    series(b_lstar, *B_X, *B_L, BLUE, 34, 2.4),
    series(b_cf, *B_X, *B_CF, GREEN, 30, 2.2),
    label("RAPiD-35-14P", 708, 55, 36),
    label("b", 1130, 47, 21, bold=True, align="center"),
]

# ---- panel c ----
C_X = ([0, 150], [120.7, 521.3])
C_MS = ([50, 200], [889.3, 690])
C_L = ([35, 55], [985.7, 795])
C_CF = ([0, 30], [1106, 931.7])
layers += axis("y", *C_MS, "left", 120.7, [50, 100, 150, 200], steps(50, 200, 10, 50),
               16, BLACK, 10, 15.5, 7, "Mag Sus (SI)", 16, BLACK, (43, 771))
layers += axis("y", *C_L, "right", 519.6, [35, 40, 45, 50, 55], steps(35, 55, 1, 5),
               17, BLUE_TXT, 9, 18, 9, "L*", 17, BLUE_TXT, (556, 878))
layers += axis("y", *C_CF, "left", 120.7, list(range(0, 31, 5)), steps(0, 30, 2.5, 5),
               16, GREEN_TXT, 10, 15.5, 7, "%CF", 16, GREEN_TITLE, (40, 1016))
layers += axis("x", *C_X, "bottom", 1106, list(range(0, 141, 20)), steps(0, 150, 4, 20),
               16, BLACK, 8, 17, 9, "Depth (cm)", 19, BLACK, (303, 1162))
layers += [
    series(c_magsus, *C_X, *C_MS, BLACK, 26, 2.2),
    series(c_lstar, *C_X, *C_L, BLUE, 26, 2.2),
    series(c_cf, *C_X, *C_CF, GREEN, 24, 2.0),
    label("RAPiD-17-5P (Top 1.5 m)", 132, 709, 19),
    label("c", 481, 1088, 21, bold=True, align="center"),
]

# ---- panel d ----
D_X = ([0, 170], [710, 1077.6])
D_MS = ([0, 150], [907.5, 808])
D_L = ([40, 55], [1027.5, 903.3])
D_CF = ([0, 10], [1103.3, 946.7])
layers += axis("y", *D_MS, "left", 710, [0, 50, 100, 150], steps(0, 150, 25, 50),
               14, BLACK, 10, 15, 7, "Mag Sus (SI)", 16, BLACK, (643, 855))
layers += axis("y", *D_L, "right", 1078, [40, 45, 50, 55], steps(40, 55, 1, 5),
               16, BLUE_TXT, 10, 14, 8, "L*", 16, BLUE_TXT, (1135, 965))
layers += axis("y", *D_CF, "left", 710, [0, 5, 10], steps(0, 10, 1, 5),
               14, GREEN_TXT, 10, 15, 7, "%CF", 15, GREEN_TITLE, (643, 1031))
layers += axis("x", *D_X, "bottom", 1103.3, list(range(0, 161, 20)), steps(0, 170, 4, 20),
               15, BLACK, 7, 16, 9, "Depth (cm)", 20, BLACK, (900, 1157))
layers += [
    series(d_magsus, *D_X, *D_MS, BLACK, 24, 2.0),
    series(d_lstar, *D_X, *D_L, BLUE, 26, 2.2),
    series(d_cf, *D_X, *D_CF, GREEN, 24, 2.0),
    label("RAPiD-35-14P (Top 1.7m)", 715, 714, 20),
    label("d", 1055, 1090, 21, bold=True, align="center"),
]

chart = alt.layer(*layers).resolve_scale(
    x="independent", y="independent"
).properties(
    width=W, height=H, padding=0, autosize=alt.AutoSizeParams(type="none"),
    background="white",
).configure_view(stroke="transparent")

chart.save("out.html", embed_options={"renderer": "svg", "actions": False})
